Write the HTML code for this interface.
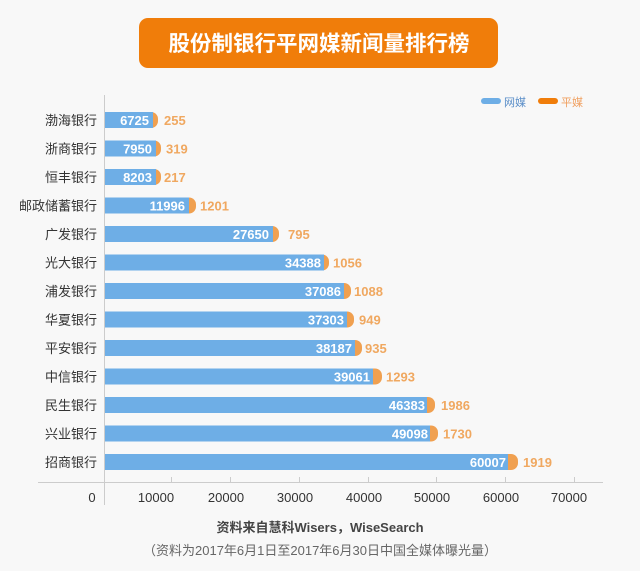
<!DOCTYPE html>
<html><head><meta charset="utf-8"><style>
html,body{margin:0;padding:0;background:#f8f8f8;}
svg{display:block;font-family:"Liberation Sans","Noto Sans CJK SC",sans-serif;}
</style></head><body>
<svg width="640" height="571" viewBox="0 0 640 571" xmlns="http://www.w3.org/2000/svg">
<rect width="640" height="571" fill="#f8f8f8"/>
<rect x="139" y="18" width="359" height="50" rx="9" fill="#f07d0a"/>
<text x="319" y="51" font-size="21.5" font-weight="bold" fill="#fff" text-anchor="middle" font-family="'Noto Sans CJK SC',sans-serif">股份制银行平网媒新闻量排行榜</text>
<rect x="481" y="98" width="20" height="6" rx="3" fill="#6eaee6"/>
<text x="504" y="106" font-size="11" fill="#5a8ec8">网媒</text>
<rect x="538" y="98" width="20" height="6" rx="3" fill="#f07d0a"/>
<text x="561" y="106" font-size="11" fill="#f0a060">平媒</text>
<line x1="104.5" y1="95" x2="104.5" y2="505" stroke="#ccc" stroke-width="1"/>
<line x1="38" y1="482.5" x2="603" y2="482.5" stroke="#ccc" stroke-width="1"/>
<g stroke="#ccc" stroke-width="1">
<line x1="171.5" y1="477" x2="171.5" y2="482"/><line x1="230.5" y1="477" x2="230.5" y2="482"/><line x1="299.5" y1="477" x2="299.5" y2="482"/><line x1="368.5" y1="477" x2="368.5" y2="482"/><line x1="436.5" y1="477" x2="436.5" y2="482"/><line x1="505.5" y1="477" x2="505.5" y2="482"/><line x1="574.5" y1="477" x2="574.5" y2="482"/>
</g>
<g font-size="13" fill="#333" text-anchor="middle">
<text x="92" y="502">0</text><text x="156" y="502">10000</text><text x="226" y="502">20000</text><text x="295" y="502">30000</text><text x="364" y="502">40000</text><text x="432" y="502">50000</text><text x="501" y="502">60000</text><text x="569" y="502">70000</text>
</g>
<g id="bars"></g>
<text x="320" y="532" font-size="13" font-weight="bold" fill="#444" text-anchor="middle">资料来自慧科Wisers，WiseSearch</text>
<text x="320" y="555" font-size="13" fill="#666" text-anchor="middle">（资料为2017年6月1日至2017年6月30日中国全媒体曝光量）</text>
<g font-size="13">
<!-- rows generated inline -->
<g transform="translate(0,0)">
<text x="97" y="125" text-anchor="end" fill="#333">渤海银行</text>
<rect x="140" y="112" width="18" height="16" rx="7" fill="#f0a050"/><rect x="105" y="112" width="48" height="16" fill="#6eaee6"/>
<text x="149" y="125" text-anchor="end" fill="#fff" font-weight="bold">6725</text><text x="164" y="125" fill="#f0a860" font-weight="bold">255</text>
</g>
<g transform="translate(0,28.5)">
<text x="97" y="125" text-anchor="end" fill="#333">浙商银行</text>
<rect x="143" y="112" width="18" height="16" rx="7" fill="#f0a050"/><rect x="105" y="112" width="51" height="16" fill="#6eaee6"/>
<text x="152" y="125" text-anchor="end" fill="#fff" font-weight="bold">7950</text><text x="166" y="125" fill="#f0a860" font-weight="bold">319</text>
</g>
<g transform="translate(0,57)">
<text x="97" y="125" text-anchor="end" fill="#333">恒丰银行</text>
<rect x="143" y="112" width="18" height="16" rx="7" fill="#f0a050"/><rect x="105" y="112" width="51" height="16" fill="#6eaee6"/>
<text x="152" y="125" text-anchor="end" fill="#fff" font-weight="bold">8203</text><text x="164" y="125" fill="#f0a860" font-weight="bold">217</text>
</g>
<g transform="translate(0,85.5)">
<text x="97" y="125" text-anchor="end" fill="#333">邮政储蓄银行</text>
<rect x="178" y="112" width="18" height="16" rx="7" fill="#f0a050"/><rect x="105" y="112" width="84" height="16" fill="#6eaee6"/>
<text x="185" y="125" text-anchor="end" fill="#fff" font-weight="bold">11996</text><text x="200" y="125" fill="#f0a860" font-weight="bold">1201</text>
</g>
<g transform="translate(0,114)">
<text x="97" y="125" text-anchor="end" fill="#333">广发银行</text>
<rect x="262" y="112" width="17" height="16" rx="7" fill="#f0a050"/><rect x="105" y="112" width="168" height="16" fill="#6eaee6"/>
<text x="269" y="125" text-anchor="end" fill="#fff" font-weight="bold">27650</text><text x="288" y="125" fill="#f0a860" font-weight="bold">795</text>
</g>
<g transform="translate(0,142.5)">
<text x="97" y="125" text-anchor="end" fill="#333">光大银行</text>
<rect x="312" y="112" width="17" height="16" rx="7" fill="#f0a050"/><rect x="105" y="112" width="219" height="16" fill="#6eaee6"/>
<text x="321" y="125" text-anchor="end" fill="#fff" font-weight="bold">34388</text><text x="333" y="125" fill="#f0a860" font-weight="bold">1056</text>
</g>
<g transform="translate(0,171)">
<text x="97" y="125" text-anchor="end" fill="#333">浦发银行</text>
<rect x="333" y="112" width="18" height="16" rx="7" fill="#f0a050"/><rect x="105" y="112" width="239" height="16" fill="#6eaee6"/>
<text x="341" y="125" text-anchor="end" fill="#fff" font-weight="bold">37086</text><text x="354" y="125" fill="#f0a860" font-weight="bold">1088</text>
</g>
<g transform="translate(0,199.5)">
<text x="97" y="125" text-anchor="end" fill="#333">华夏银行</text>
<rect x="336" y="112" width="18" height="16" rx="7" fill="#f0a050"/><rect x="105" y="112" width="242" height="16" fill="#6eaee6"/>
<text x="344" y="125" text-anchor="end" fill="#fff" font-weight="bold">37303</text><text x="359" y="125" fill="#f0a860" font-weight="bold">949</text>
</g>
<g transform="translate(0,228)">
<text x="97" y="125" text-anchor="end" fill="#333">平安银行</text>
<rect x="344" y="112" width="18" height="16" rx="7" fill="#f0a050"/><rect x="105" y="112" width="250" height="16" fill="#6eaee6"/>
<text x="352" y="125" text-anchor="end" fill="#fff" font-weight="bold">38187</text><text x="365" y="125" fill="#f0a860" font-weight="bold">935</text>
</g>
<g transform="translate(0,256.5)">
<text x="97" y="125" text-anchor="end" fill="#333">中信银行</text>
<rect x="363" y="112" width="19" height="16" rx="7" fill="#f0a050"/><rect x="105" y="112" width="268" height="16" fill="#6eaee6"/>
<text x="370" y="125" text-anchor="end" fill="#fff" font-weight="bold">39061</text><text x="386" y="125" fill="#f0a860" font-weight="bold">1293</text>
</g>
<g transform="translate(0,285)">
<text x="97" y="125" text-anchor="end" fill="#333">民生银行</text>
<rect x="417" y="112" width="18" height="16" rx="7" fill="#f0a050"/><rect x="105" y="112" width="322" height="16" fill="#6eaee6"/>
<text x="425" y="125" text-anchor="end" fill="#fff" font-weight="bold">46383</text><text x="441" y="125" fill="#f0a860" font-weight="bold">1986</text>
</g>
<g transform="translate(0,313.5)">
<text x="97" y="125" text-anchor="end" fill="#333">兴业银行</text>
<rect x="420" y="112" width="18" height="16" rx="7" fill="#f0a050"/><rect x="105" y="112" width="325" height="16" fill="#6eaee6"/>
<text x="428" y="125" text-anchor="end" fill="#fff" font-weight="bold">49098</text><text x="443" y="125" fill="#f0a860" font-weight="bold">1730</text>
</g>
<g transform="translate(0,342)">
<text x="97" y="125" text-anchor="end" fill="#333">招商银行</text>
<rect x="499" y="112" width="19" height="16" rx="7" fill="#f0a050"/><rect x="105" y="112" width="403" height="16" fill="#6eaee6"/>
<text x="506" y="125" text-anchor="end" fill="#fff" font-weight="bold">60007</text><text x="523" y="125" fill="#f0a860" font-weight="bold">1919</text>
</g>
</g>
</svg>
</body></html>
